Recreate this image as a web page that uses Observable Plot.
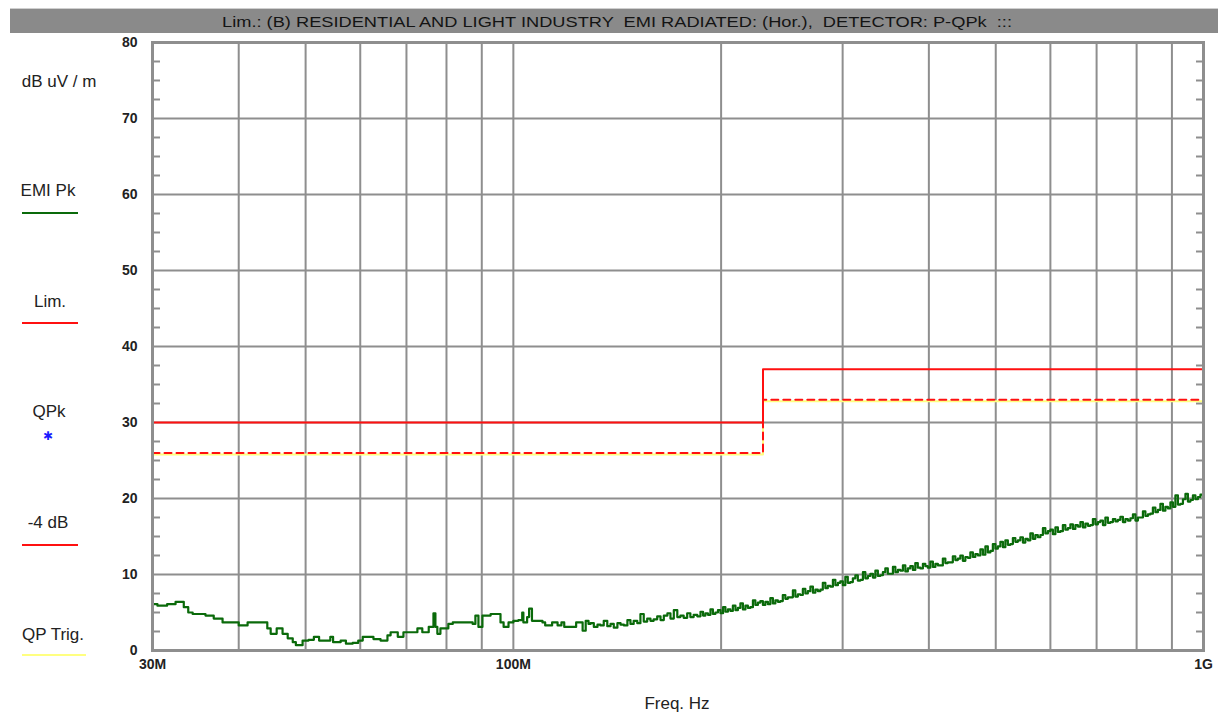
<!DOCTYPE html>
<html><head><meta charset="utf-8">
<script src="https://cdn.jsdelivr.net/npm/d3@7"></script>
<script src="https://cdn.jsdelivr.net/npm/@observablehq/plot@0.6"></script>
<style>
body{margin:0;background:#fff;}
#chart svg{display:block;}
</style></head><body><div id="chart"></div>
<script>
const titleText = "Lim.: (B) RESIDENTIAL AND LIGHT INDUSTRY  EMI RADIATED: (Hor.),  DETECTOR: P-QPk  :::";
const yUnit = "dB uV / m";
const xTitle = "Freq. Hz";
const xTickValues = [30, 100, 1000];
const xTickLabels = ["30M", "100M", "1G"];
const xGridValues = [40, 50, 60, 70, 80, 90, 100, 200, 300, 400, 500, 600, 700, 800, 900];
const yTickValues = [0, 10, 20, 30, 40, 50, 60, 70, 80];
const yMinorTicks = [2.5,5,7.5,12.5,15,17.5,22.5,25,27.5,32.5,35,37.5,42.5,45,47.5,52.5,55,57.5,62.5,65,67.5,72.5,75,77.5];
const limitFreq = [30, 230, 1000];
const limitLevel = [30, 37, 37];
const marginLevel = [26, 33, 33];
const legendLabels = ["EMI Pk", "Lim.", "QPk", "-4 dB", "QP Trig."];
const legendColors = ["#0a6a0a", "#ff1010", "#1a1aff", "#ff1010", "#ffff80"];

// EMI peak trace (MHz, dBuV/m)
const emiFreq = [
  30.0,30.5,30.5,31.5,31.5,32.4,32.4,33.2,33.3,33.8,34.3,35.6,35.8,36.7,36.8,37.7,37.9,39.6,40.0,40.9,
  41.2,43.4,44.0,44.5,45.4,46.3,47.1,47.9,48.4,49.5,50.5,51.4,52.3,53.4,54.3,54.8,56.2,57.2,58.5,59.6,
  60.5,62.7,64.2,65.7,66.4,68.0,69.3,71.0,72.6,73.8,75.4,76.6,77.1,77.6,78.4,79.7,80.5,81.7,86.1,87.3,
  88.1,89.0,90.2,92.1,92.7,95.2,95.8,96.8,98.4,100.0,101.7,103.0,103.4,104.7,105.4,106.4,110.2,111.2,113.8,115.9,
  117.4,118.5,122.4,123.3,126.0,127.3,128.5,
  129.4,130.8,132.4, 133.7,135.2,136.8, 138.3,139.8,141.5, 143.0,144.6,146.3, 147.8,149.4,151.2,
  152.8,154.5,156.3, 158.0,159.7,161.6, 163.4,165.2,167.2, 168.9,170.8,172.8, 174.6,176.5,178.6,
  180.5,182.5,184.7,
  186.7,188.3,189.8,191.4, 193.0,194.6,196.2,197.9, 199.6,201.3,202.9,204.6, 206.3,208.0,209.8,211.5,
  213.3,215.1,216.9,218.7, 220.5,222.4,224.2,226.1, 228.0,229.9,231.8,233.8, 235.7,237.7,239.7,241.7,
  243.7,245.7,247.8,249.9, 252.0,254.1,256.2,258.4, 260.5,262.7,264.9,267.1, 269.4,271.7,273.9,276.2,
  278.5,280.8,283.2,285.5, 288.0,290.4,292.8,295.3, 297.7,300.2,302.7,305.2, 307.8,310.4,313.0,315.6,
  318.3,321.0,323.6,326.4, 329.1,331.9,334.6,337.4, 340.2,343.1,345.9,348.8, 351.8,354.8,357.7,360.7,
  363.7,366.8,369.8,372.9, 376.0,379.2,382.3,385.5, 388.8,392.1,395.3,398.6, 402.0,405.4,408.8,412.2,
  415.6,419.1,422.6,426.1, 429.7,433.3,436.9,440.6, 444.3,448.0,451.8,455.5, 459.4,463.3,467.1,471.0,
  475.0,479.0,483.0,487.0, 491.1,495.2,499.4,503.5, 507.8,512.1,516.3,520.6, 525.0,529.4,533.8,538.3,
  542.8,547.4,551.9,556.5, 561.2,565.9,570.6,575.4, 580.3,585.2,590.0,595.0, 600.0,605.0,610.1,615.2,
  620.3,625.5,630.7,636.0, 641.4,646.8,652.2,657.6, 663.2,668.8,674.3,680.0, 685.6,691.4,697.1,703.0,
  708.9,714.9,720.8,726.8, 733.0,739.2,745.3,751.5, 757.8,764.2,770.5,777.0, 783.6,790.2,796.8,803.4,
  810.2,817.0,823.8,830.7, 837.6,844.6,851.7,858.8, 866.1,873.4,880.6,888.0, 895.5,903.0,910.5,918.2,
  925.9,933.7,941.5,949.3, 957.3,965.3,973.4,981.5, 989.8,1000
];
const emiLevel = [
  6.1,6.1,5.9,5.9,6.1,6.1,6.4,6.4,5.7,5.0,4.8,4.8,4.6,4.6,4.2,4.2,3.7,3.7,3.3,3.3,
  3.7,3.7,2.9,2.2,2.9,2.2,1.6,1.1,0.7,1.3,1.4,1.8,1.3,1.3,1.8,1.1,1.3,0.9,1.0,1.3,
  1.8,1.5,1.3,2.0,2.4,1.8,2.4,2.4,2.9,2.4,3.1,4.9,3.1,2.2,2.9,2.9,3.5,3.7,3.7,3.5,
  4.6,3.1,4.6,4.6,4.8,4.8,3.7,3.1,3.7,3.9,4.0,5.0,3.7,4.4,5.5,3.9,3.7,3.3,3.7,3.3,
  3.7,3.1,3.1,3.7,2.6,3.9,3.5,
  3.6,3.1,3.4, 3.3,3.9,3.2, 3.5,3.0,3.6, 3.4,3.3,4.0, 3.5,3.9,3.6,
  4.8,3.8,4.2, 3.9,4.1,4.5, 4.0,4.6,4.9, 4.2,5.3,4.4, 4.6,4.3,4.9,
  4.4,4.7,4.5,
  5.1,4.6,4.9,4.7, 5.4,4.8,5.0,5.3, 4.9,5.7,5.1,5.4, 5.2,5.9,5.3,5.6,
  6.2,5.4,5.9,5.6, 5.7,6.6,6.0,6.3, 6.5,6.0,6.4,6.1, 6.9,6.2,6.6,6.4,
  6.5,7.3,6.8,7.0, 7.0,7.9,7.1,7.4, 7.3,8.1,7.5,7.8, 8.4,7.6,8.0,7.8,
  8.0,8.9,8.2,8.5, 8.4,9.3,8.6,8.9, 9.1,8.6,9.7,8.9, 9.0,9.5,9.9,9.2,
  9.3,10.3,9.5,9.8, 10.1,9.6,10.5,9.8, 9.9,10.3,10.8,10.1, 10.1,11.0,10.3,10.6,
  10.5,11.2,10.4,10.8, 11.1,10.6,11.5,10.9, 10.8,11.4,11.1,10.9, 11.7,11.0,11.4,11.2,
  11.2,12.1,11.5,11.6, 11.6,12.4,11.9,12.1, 12.5,11.8,12.3,12.2, 12.9,12.3,12.7,12.5,
  13.3,12.6,13.7,12.9, 13.1,14.0,13.4,13.7, 14.3,13.6,14.5,13.9, 14.0,14.8,14.3,14.5,
  14.9,14.2,14.7,14.5, 15.4,14.7,15.2,14.9, 15.2,16.1,15.4,15.7, 15.9,15.3,16.2,15.6,
  15.7,16.5,15.9,16.1, 16.6,16.0,16.5,16.3, 16.9,16.2,16.7,16.4, 16.5,17.3,16.6,16.9,
  17.1,16.5,17.5,16.8, 16.9,17.3,17.0,17.2, 17.6,16.9,17.3,17.1, 17.4,17.9,17.1,17.5,
  17.5,18.3,17.7,17.9, 18.0,18.8,18.2,18.5, 19.3,18.4,18.9,18.7, 19.5,18.9,20.4,19.2,
  19.3,19.9,20.6,19.6, 19.8,20.4,19.9,20.2, 20.5,20.1
];

const gridColor = "#8e8e8e";
const emiRows = emiFreq.map((f, i) => ({f, v: emiLevel[i]})).filter(d => d.v != null);
const limitRows = limitFreq.map((f, i) => ({f, lim: limitLevel[i], margin: marginLevel[i]}));

const chart = Plot.plot({
  width: 1218, height: 713,
  marginLeft: 152, marginRight: 15, marginTop: 42, marginBottom: 63,
  style: {fontFamily: "'Liberation Sans', Arial, sans-serif", background: "white", color: "#222"},
  x: {type: "log", domain: [30, 1000]},
  y: {domain: [0, 80]},
  marks: [
    Plot.gridX(xGridValues, {stroke: gridColor, strokeOpacity: 1, strokeWidth: 2}),
    Plot.gridY(yTickValues.slice(1, -1), {stroke: gridColor, strokeOpacity: 1, strokeWidth: 2}),
    Plot.axisY(yMinorTicks, {anchor: "left", tickSize: -8, tickFormat: () => "", label: null, stroke: gridColor, strokeWidth: 2}),
    Plot.axisY(yMinorTicks, {anchor: "right", tickSize: -8, tickFormat: () => "", label: null, stroke: gridColor, strokeWidth: 2}),
    Plot.axisY(yTickValues, {anchor: "left", tickSize: 0, tickPadding: 15, fontSize: 14, fontWeight: "bold", label: null}),
    Plot.axisX(xTickValues, {tickSize: 0, tickPadding: 9, fontSize: 14, fontWeight: "bold", label: null,
      tickFormat: d => xTickLabels[xTickValues.indexOf(d)]}),
    Plot.line(limitRows, {x: "f", y: "margin", curve: "step-after", stroke: "#ffff80", strokeWidth: 2, dy: 1.5}),
    Plot.line(limitRows, {x: "f", y: "margin", curve: "step-after", stroke: "#ff1010", strokeWidth: 2, strokeDasharray: "7,5"}),
    Plot.line(limitRows, {x: "f", y: "lim", curve: "step-after", stroke: "#ff1010", strokeWidth: 2}),
    Plot.line(emiRows, {x: "f", y: "v", curve: "step-after", stroke: "#0a6a0a", strokeWidth: 2.2}),
    Plot.frame({stroke: gridColor, strokeWidth: 3})
  ]
});
document.getElementById("chart").appendChild(chart);

const svg = d3.select(chart);
// title bar
const bar = svg.append("g");
bar.append("rect").attr("x", 10).attr("y", 9).attr("width", 1208).attr("height", 24).attr("fill", "#8a8a8a");
bar.append("line").attr("x1", 10).attr("x2", 1218).attr("y1", 8.5).attr("y2", 8.5).attr("stroke", "#cfcfcf");
bar.append("text").attr("x", 617).attr("y", 26.5).attr("text-anchor", "middle")
  .attr("font-family", "'Liberation Sans', Arial, sans-serif").attr("font-size", 15).attr("fill", "#141414")
  .attr("textLength", 790).attr("lengthAdjust", "spacingAndGlyphs")
  .style("white-space", "pre").text(titleText);

// left legend
const lg = svg.append("g").attr("font-family", "'Liberation Sans', Arial, sans-serif").attr("font-size", 17).attr("fill", "#222");
lg.append("text").attr("x", 59).attr("y", 81).attr("dy", "0.35em").attr("text-anchor", "middle").text(yUnit);
const legendTextX = [48, 50, 49, 48, 53];
const legendTextY = [190, 301, 411, 522, 634];
const legendMarkY = [213, 323, 436, 545, 655];
const legendMarkX2 = [78, 78, 0, 78, 86];
legendLabels.forEach((lab, i) => {
  lg.append("text").attr("x", legendTextX[i]).attr("y", legendTextY[i]).attr("dy", "0.35em")
    .attr("text-anchor", "middle").text(lab);
  if (lab === "QPk") {
    lg.append("text").attr("x", 48).attr("y", legendMarkY[i]).attr("dy", "0.35em").attr("text-anchor", "middle")
      .attr("font-family", "DejaVu Sans").attr("font-size", 12).attr("font-weight", "bold").attr("fill", legendColors[i]).text("✱");
  } else {
    lg.append("line").attr("x1", 22).attr("x2", legendMarkX2[i]).attr("y1", legendMarkY[i]).attr("y2", legendMarkY[i])
      .attr("stroke", legendColors[i]).attr("stroke-width", 2);
  }
});
svg.append("text").attr("x", 677).attr("y", 709).attr("text-anchor", "middle")
  .attr("font-family", "'Liberation Sans', Arial, sans-serif").attr("font-size", 17).attr("fill", "#222").text(xTitle);
</script></body></html>
